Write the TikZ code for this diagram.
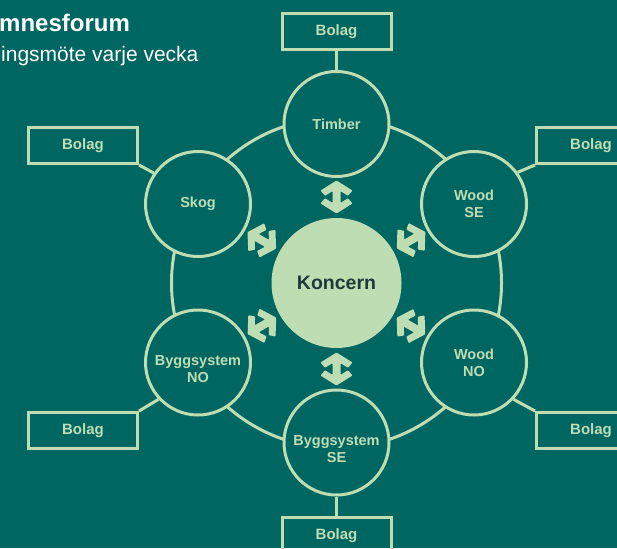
\documentclass[tikz,border=0pt]{standalone}
\usepackage{fontspec}
\setmainfont{Liberation Sans}
\usetikzlibrary{calc}
\definecolor{bg}{HTML}{006661}
\definecolor{lg}{HTML}{BEDDB3}
\definecolor{dk}{HTML}{1F3A3A}
\begin{document}
\begin{tikzpicture}[x=1pt,y=-1pt,
  unitcirc/.style={circle, draw=lg, line width=3pt, fill=bg, minimum size=105pt,
    inner sep=0pt, text=lg, align=center, font=\bfseries\fontsize{14.5}{17}\selectfont},
  lbl/.style={text=lg, align=center, inner sep=0pt, font=\bfseries\fontsize{14.5}{17}\selectfont},
  bolagbox/.style={rectangle, draw=lg, line width=3pt, minimum width=109pt, minimum height=36pt,
    inner sep=0pt, text=lg, font=\bfseries\fontsize{15}{18}\selectfont},
  conn/.style={draw=lg, line width=3pt},
  dblarrow/.pic={\fill[lg, rounded corners=0.8pt] (16.5,0) -- (6.5,16) -- (1.2,11.5) -- (5.9,4) -- (-5.9,4) -- (-1.2,11.5)
     -- (-6.5,16) -- (-16.5,0) -- (-6.5,-16) -- (-1.2,-11.5) -- (-5.9,-4) -- (5.9,-4)
     -- (1.2,-11.5) -- (6.5,-16) -- cycle;}
]
\useasboundingbox (0,0) rectangle (617,548);
\fill[bg] (0,0) rectangle (617,548);

% title
\node[anchor=base west, inner sep=0pt, text=white, font=\bfseries\fontsize{24}{28}\selectfont] (title) at (-1,31.5) {mnesforum};
\node[anchor=base west, inner sep=0pt, text=white, font=\fontsize{21}{25}\selectfont] (subtitle) at (1,62) {ingsmöte varje vecka};

% ring
\coordinate (ringc) at (336.5,283);
\draw[conn] (ringc) circle (165);

% circles
\node[unitcirc] (timber) at (336.5,124) {Timber};
\node[unitcirc] (woodse) at (474,204) {Wood\\SE};
\node[unitcirc] (woodno) at (474,362.5) {Wood\\NO};
\node[unitcirc, label={[lbl, yshift=-7pt]center:{Byggsystem\\SE}}] (byggse) at (336.5,442.5) {};
\node[unitcirc, label={[lbl, yshift=-7pt]center:{Byggsystem\\NO}}] (byggno) at (198,362.5) {};
\node[unitcirc] (skog) at (198,204) {Skog};

\node[circle, fill=lg, minimum size=130pt, inner sep=0pt, text=dk,
  font=\bfseries\fontsize{19.5}{23}\selectfont] (koncern) at (336.5,283) {Koncern};

% Bolag boxes
\node[bolagbox] (bolagT) at (336.5,31.5) {Bolag};
\node[bolagbox] (bolagB) at (336.5,535.5) {Bolag};
\node[bolagbox] (bolagTL) at (83,145.5) {Bolag};
\node[bolagbox] (bolagTR) at (591,145.5) {Bolag};
\node[bolagbox] (bolagBL) at (83,430.5) {Bolag};
\node[bolagbox] (bolagBR) at (591,430.5) {Bolag};

% connectors to boxes
\draw[conn] (bolagT.south) -- (timber.north);
\draw[conn] (byggse.south) -- (bolagB.north);
\draw[conn] (bolagTL.south east) -- (skog.145);
\draw[conn] (bolagTR.south west) -- (woodse.36);
\draw[conn] (bolagBL.north east) -- (byggno.223);
\draw[conn] (bolagBR.north west) -- (woodno.-43);

% double arrows
\pic[rotate=90] at ($(koncern.center)!86pt!(timber.center)$) {dblarrow};
\pic[rotate=30] at ($(koncern.center)!86pt!(woodse.center)$) {dblarrow};
\pic[rotate=-30] at ($(koncern.center)!86pt!(woodno.center)$) {dblarrow};
\pic[rotate=90] at ($(koncern.center)!86pt!(byggse.center)$) {dblarrow};
\pic[rotate=30] at ($(koncern.center)!86pt!(byggno.center)$) {dblarrow};
\pic[rotate=150] at ($(koncern.center)!86pt!(skog.center)$) {dblarrow};
\end{tikzpicture}
\end{document}
